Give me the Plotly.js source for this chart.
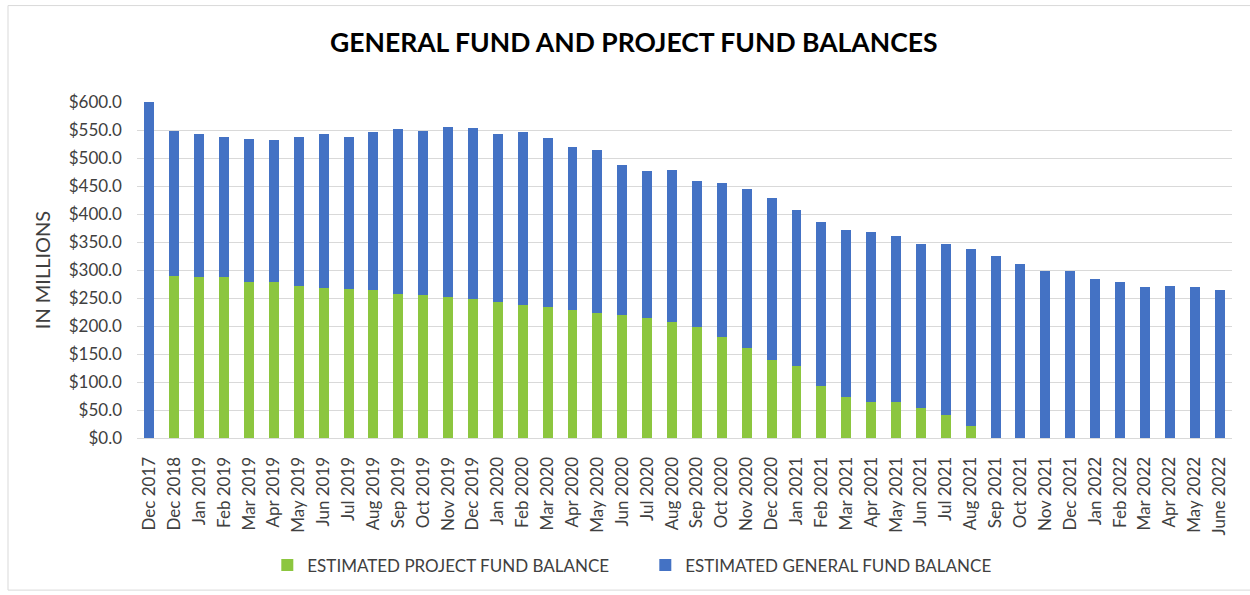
<!DOCTYPE html>
<html>
<head>
<meta charset="utf-8">
<script src="https://cdn.plot.ly/plotly-3.0.1.min.js"></script>
<style>
  html, body { margin: 0; padding: 0; background: #fff; }
  #chart { width: 1250px; height: 595px; }
</style>
</head>
<body>
<div id="chart"></div>
<script>
const months = ["Dec 2017","Dec 2018","Jan 2019","Feb 2019","Mar 2019","Apr 2019","May 2019","Jun 2019","Jul 2019","Aug 2019","Sep 2019","Oct 2019","Nov 2019","Dec 2019","Jan 2020","Feb 2020","Mar 2020","Apr 2020","May 2020","Jun 2020","Jul 2020","Aug 2020","Sep 2020","Oct 2020","Nov 2020","Dec 2020","Jan 2021","Feb 2021","Mar 2021","Apr 2021","May 2021","Jun 2021","Jul 2021","Aug 2021","Sep 2021","Oct 2021","Nov 2021","Dec 2021","Jan 2022","Feb 2022","Mar 2022","Apr 2022","May 2022","June 2022"];

// Estimated project fund balance ($ millions)
const projectFund = [0,289,287,287,278,278,272,268,266,265,258,255,251,249,242,237,234,228,223,219,214,207,198,180,160,140,129,92,74,65,65,54,41,22,0,0,0,0,0,0,0,0,0,0];

// Estimated general fund balance ($ millions)
const generalFund = [600,260,255,250,256,254,265,274,271,282,293,294,305,305,301,310,301,291,291,269,262,271,261,275,285,289,278,294,297,302,295,292,305,316,325,310,299,299,284,278,269,272,269,265];

const green = "#8CC63F";
const blue = "#4472C4";
const font = "Lato, 'Open Sans', sans-serif";

const traces = [
  {
    type: "bar", name: "ESTIMATED PROJECT FUND BALANCE",
    x: months, y: projectFund, marker: {color: green}
  },
  {
    type: "bar", name: "ESTIMATED GENERAL FUND BALANCE",
    x: months, y: generalFund, marker: {color: blue}
  }
];

const layout = {
  width: 1250, height: 595,
  margin: {l: 137, r: 18, t: 102, b: 155},
  paper_bgcolor: "#fff", plot_bgcolor: "#fff",
  barmode: "stack", bargap: 0.6,
  font: {family: font, color: "#404040"},
  title: {
    text: "<b>GENERAL FUND AND PROJECT FUND BALANCES</b>",
    font: {family: font, size: 26.5, color: "#000"},
    x: 0.507, xanchor: "center", y: 0.9286, yanchor: "middle", yref: "container"
  },
  xaxis: {
    type: "category", tickangle: -90,
    tickfont: {family: font, size: 17, color: "#404040"},
    showgrid: false, showline: true, linecolor: "#d9d9d9", linewidth: 1,
    ticks: "", ticklen: 0, ticklabelstandoff: 11
  },
  yaxis: {
    range: [0, 600], dtick: 50, tick0: 0,
    tickprefix: "$", tickformat: ".1f",
    tickfont: {family: font, size: 17, color: "#404040"},
    showgrid: true, gridcolor: "#d9d9d9", gridwidth: 1,
    zeroline: false, showline: false, ticks: "", ticklabelstandoff: 14,
    title: {text: "IN MILLIONS", font: {family: font, size: 20, color: "#404040"}, standoff: 12}
  },
  legend: {
    orientation: "h", x: 0.119, xanchor: "left", y: -0.379, yanchor: "middle",
    font: {family: font, size: 17, color: "#404040"},
    traceorder: "normal", itemwidth: 30, entrywidth: 333
  },
  shapes: [{
    type: "rect", xref: "paper", yref: "paper",
    x0: -0.1178, x1: 1.018, y0: -0.4527, y1: 1.287,
    line: {color: "#d9d9d9", width: 1}, layer: "below"
  }]
};

Plotly.newPlot("chart", traces, layout, {displayModeBar: false, staticPlot: true});
</script>
</body>
</html>
